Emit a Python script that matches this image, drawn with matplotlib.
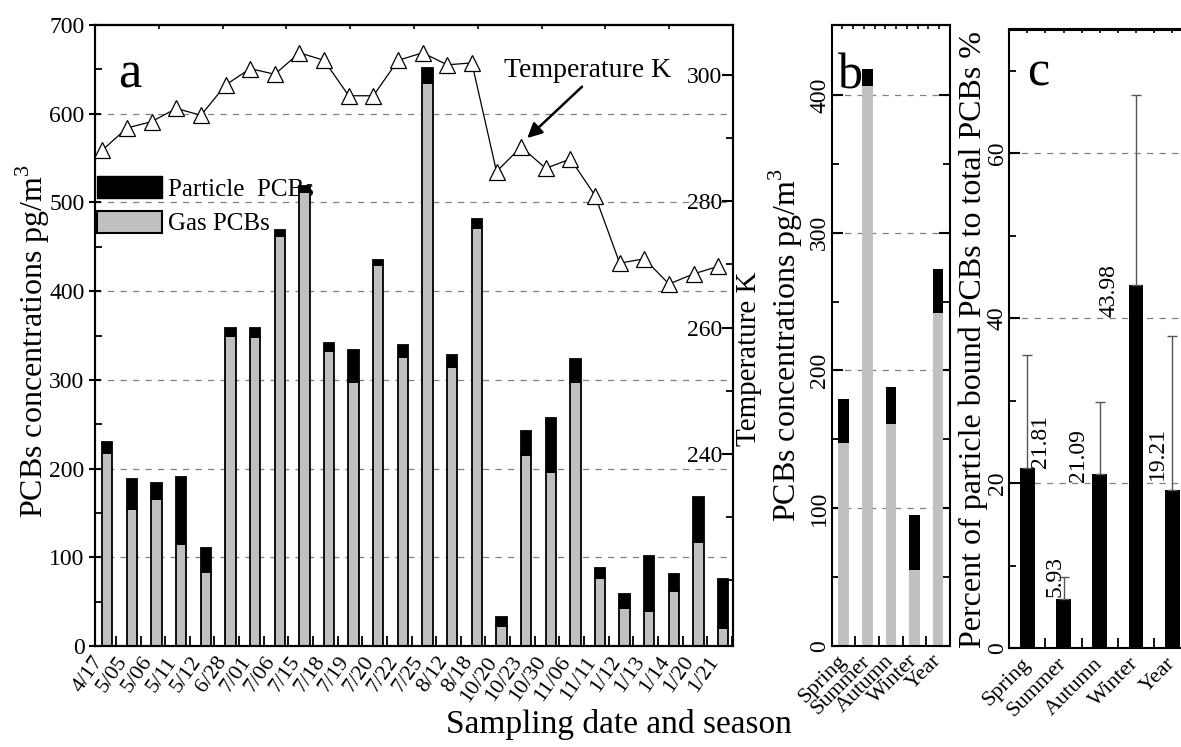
import numpy as np
import matplotlib
matplotlib.use('Agg')
import matplotlib.pyplot as plt
import matplotlib.transforms as mtransforms
from matplotlib.patches import Patch

plt.rcParams['font.family'] = ['Liberation Serif', 'DejaVu Serif']
plt.rcParams['mathtext.fontset'] = 'custom'
plt.rcParams['mathtext.rm'] = 'Liberation Serif'

# panel a: sampling dates
dates = ['4/17', '5/05', '5/06', '5/11', '5/12', '6/28', '7/01', '7/06', '7/15',
         '7/18', '7/19', '7/20', '7/22', '7/25', '8/12', '8/18', '10/20', '10/23',
         '10/30', '11/06', '11/11', '1/12', '1/13', '1/14', '1/20', '1/21']
gas = [218, 154, 166, 115, 83, 350, 348, 462, 512, 332, 298, 429, 326, 635, 314,
       471, 23, 215, 196, 298, 77, 43, 39, 62, 117, 20]
particle = [12, 34, 18, 76, 27, 9, 11, 7, 6, 9, 36, 6, 13, 16, 14, 10, 10, 27,
            61, 26, 11, 16, 63, 19, 51, 55]
temp_k = [288.1, 291.6, 292.6, 294.7, 293.6, 298.4, 301.0, 300.1, 303.5, 302.3,
          296.7, 296.7, 302.3, 303.5, 301.6, 301.9, 284.7, 288.6, 285.2, 286.7,
          280.9, 270.2, 270.9, 266.9, 268.5, 269.7]

# panel b / c: seasons
seasons = ['Spring', 'Summer', 'Autumn', 'Winter', 'Year']
season_gas = [147, 407, 161, 55, 242]
season_particle = [32, 12, 27, 40, 32]
pct_particle = [21.81, 5.93, 21.09, 43.98, 19.21]
pct_err = [13.74, 2.75, 8.71, 23.12, 18.59]

GRAY = '#c0c0c0'
W, H = 1181, 747
fig = plt.figure(figsize=(W / 100, H / 100), dpi=100)


def px_box(left, top, right, bottom):
    return [left / W, 1 - bottom / H, (right - left) / W, (bottom - top) / H]


def style_axes(ax):
    for s in ax.spines.values():
        s.set_linewidth(1.5)


def grid_lines(ax, values):
    for v in values:
        ax.axhline(v, color='#808080', lw=0.9, ls=(0, (5, 5)), zorder=0.5)


# ---------------- panel a ----------------
ax = fig.add_axes(px_box(95, 25, 733, 646))
style_axes(ax)
x = np.arange(len(dates))
ax.bar(x, gas, width=0.42, color=GRAY, edgecolor='black', linewidth=1.3, zorder=2)
ax.bar(x, particle, bottom=gas, width=0.42, color='black', edgecolor='black',
       linewidth=1.3, zorder=2)
ax.set_xlim(-0.5, len(dates) - 0.6)
ax.set_ylim(0, 700)
grid_lines(ax, [100, 200, 300, 400, 500, 600])
ax.set_yticks(np.arange(0, 701, 100))
ax.set_yticks(np.arange(50, 700, 100), minor=True)
ax.tick_params(axis='y', which='major', direction='inout', length=9, width=1.5,
               labelsize=17, pad=3)
ax.tick_params(axis='y', which='minor', direction='in', length=5, width=1.3)
ax.set_xticks(x)
ax.set_xticklabels(dates, rotation=55, ha='right', va='center', rotation_mode='anchor')
ax.set_xticks(x + 0.35, minor=True)
ax.tick_params(axis='x', which='major', length=0, labelsize=16, pad=9)
ax.tick_params(axis='x', which='minor', direction='in', length=7, width=1.3)
off = mtransforms.ScaledTranslation(-8 / 100, 0, fig.dpi_scale_trans)
for lab in ax.get_xticklabels():
    lab.set_transform(lab.get_transform() + off)
topa = ax.secondary_xaxis('top')
topa.set_xticks(np.linspace(-0.5, len(dates) - 0.6, 11))
topa.set_xticklabels([])
topa.tick_params(direction='in', length=3, width=1.2)
topa.spines['top'].set_linewidth(1.5)

leg = ax.legend(handles=[Patch(fc='black', ec='black'),
                         Patch(fc=GRAY, ec='black', lw=1.5)],
                labels=['Particle  PCBs', 'Gas PCBs'], loc='upper left',
                bbox_to_anchor=(0.003, 0.757), frameon=False, fontsize=18,
                handlelength=2.6, handleheight=1.0, handletextpad=0.25,
                labelspacing=0.4, borderpad=0, borderaxespad=0)
leg.set_zorder(1.5)
ax.text(0.036, 0.90, 'a', transform=ax.transAxes, fontsize=38, va='baseline')

ax2 = ax.twinx()
ax2.plot(x - 0.2, temp_k, color='black', lw=0.9, marker='^', ms=12,
         mfc='white', mec='black', mew=0.9)
ax2.set_ylim(209.6, 307.9)
ax2.set_yticks([240, 260, 280, 300])
ax2.set_yticks([220, 230, 250, 270, 290], minor=True)
ax2.tick_params(axis='y', which='major', direction='in', length=8, width=1.5,
                labelsize=17, pad=-7.5)
ax2.tick_params(axis='y', which='minor', direction='in', length=5, width=1.3)
plt.setp(ax2.get_yticklabels(), ha='right')
for s in ax2.spines.values():
    s.set_linewidth(1.5)
ax2.annotate('Temperature K', xy=(17.05, 290.0), xytext=(19.5, 300.7),
             fontsize=20, ha='center', va='center',
             arrowprops=dict(arrowstyle='-|>', color='black', lw=1.8,
                             mutation_scale=22, relpos=(0.49, 0.0), shrinkA=1,
                             shrinkB=0))

# ---------------- panel b ----------------
axb = fig.add_axes(px_box(831.7, 25, 950, 645.7))
style_axes(axb)
xs = np.arange(len(seasons))
axb.bar(xs, season_gas, width=0.45, color=GRAY, zorder=2)
axb.bar(xs, season_particle, bottom=season_gas, width=0.45, color='black', zorder=2)
axb.set_xlim(-0.5, 4.5)
axb.set_ylim(0, 451)
grid_lines(axb, [100, 200, 300, 400])
axb.set_yticks([0, 100, 200, 300, 400])
axb.set_yticks([50, 150, 250, 350], minor=True)
axb.tick_params(axis='y', which='major', direction='in', length=8, width=1.5,
                labelsize=17, pad=1, labelrotation=90, right=True)
axb.tick_params(axis='y', which='minor', direction='in', length=5, width=1.3,
                right=True)
plt.setp(axb.get_yticklabels(), va='center')
axb.set_xticks(xs)
axb.set_xticklabels(seasons, rotation=45, ha='right', va='center',
                    rotation_mode='anchor')
axb.set_xticks(xs + 0.5, minor=True)
axb.tick_params(axis='x', which='major', length=0, labelsize=16, pad=9)
axb.tick_params(axis='x', which='minor', direction='in', length=7, width=1.3)
topb = axb.secondary_xaxis('top')
topb.set_xticks(np.linspace(-0.5, 4.5, 12))
topb.set_xticklabels([])
topb.tick_params(direction='in', length=3, width=1.2)
topb.spines['top'].set_linewidth(1.5)
axb.text(0.053, 0.8985, 'b', transform=axb.transAxes, fontsize=36, va='baseline')

# ---------------- panel c ----------------
axc = fig.add_axes(px_box(1009.2, 29.5, 1190.4, 648.3))
style_axes(axc)
axc.bar(xs, pct_particle, width=0.41, color='black', zorder=2,
        yerr=[np.zeros(len(pct_err)), pct_err], ecolor='#555555',
        error_kw=dict(elinewidth=1.0, capsize=3.5, capthick=1.0))
axc.set_xlim(-0.5, 4.5)
axc.set_ylim(0, 75)
grid_lines(axc, [20, 40, 60])
axc.set_yticks([0, 20, 40, 60])
axc.set_yticks([10, 30, 50, 70], minor=True)
axc.tick_params(axis='y', which='major', direction='in', length=8, width=1.5,
                labelsize=17, pad=1, labelrotation=90)
axc.tick_params(axis='y', which='minor', direction='in', length=5, width=1.3)
plt.setp(axc.get_yticklabels(), va='center')
axc.set_xticks(xs)
axc.set_xticklabels(seasons, rotation=45, ha='right', va='center',
                    rotation_mode='anchor')
axc.set_xticks(xs + 0.5, minor=True)
axc.tick_params(axis='x', which='major', length=0, labelsize=16, pad=9)
axc.tick_params(axis='x', which='minor', direction='in', length=7, width=1.3)
topc = axc.secondary_xaxis('top')
topc.set_xticks(np.arange(-0.5, 4.6, 0.5))
topc.set_xticklabels([])
topc.tick_params(direction='in', length=3, width=1.2)
topc.spines['top'].set_linewidth(1.5)
axc.text(0.098, 0.91, 'c', transform=axc.transAxes, fontsize=36, va='baseline')

# value labels, shifted sideways and up/down by hand as in the original
label_dx = [0.36, -0.24, -0.58, -0.75, -0.4]
label_dy = [0.0, 0.3, -0.9, -3.8, 1.2]
for i, v in enumerate(pct_particle):
    axc.text(i + label_dx[i], v + label_dy[i], f'{v:.2f}', rotation=90,
             ha='center', va='bottom', fontsize=17)

# ---------------- axis titles ----------------
fig.text(33 / W, 1 - 341 / H, r'PCBs concentrations pg/m$^{3}$', rotation=90,
         ha='center', va='center', fontsize=23)
fig.text(749 / W, 1 - 359 / H, 'Temperature K', rotation=90,
         ha='center', va='center', fontsize=21)
fig.text(786 / W, 1 - 345 / H, r'PCBs concentrations pg/m$^{3}$', rotation=90,
         ha='center', va='center', fontsize=23)
fig.text(973 / W, 1 - 339 / H, 'Percent of particle bound PCBs to total PCBs %',
         rotation=90, ha='center', va='center', fontsize=23)
fig.text(619 / W, 1 - 725 / H, 'Sampling date and season', ha='center',
         va='center', fontsize=24)

fig.savefig('out.png', dpi=100)
